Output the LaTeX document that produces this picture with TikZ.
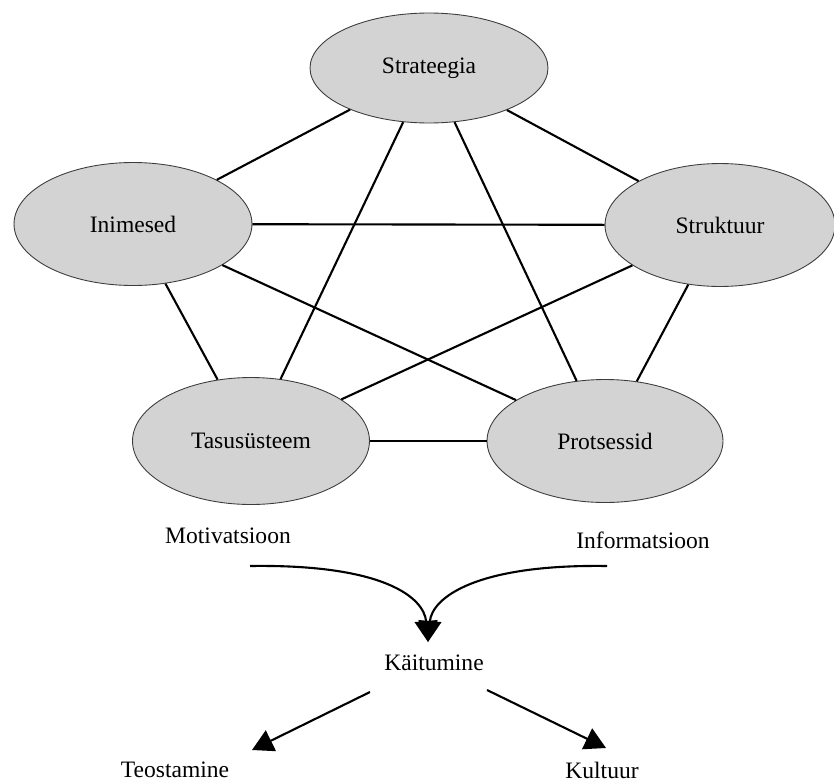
\documentclass[tikz,border=0pt]{standalone}
\usepackage{fontspec}
\setmainfont{Liberation Serif}
\usetikzlibrary{positioning, shapes, arrows.meta}
\definecolor{ovalgray}{RGB}{211,211,211}
\definecolor{rimgray}{RGB}{60,60,60}
\tikzset{
  oval/.style={ellipse, draw=rimgray, line width=0.5pt, fill=ovalgray,
    inner sep=0, font=\fontsize{13.4}{15}\selectfont},
  plain/.style={draw=none, inner sep=2pt, font=\fontsize{13.4}{15}\selectfont},
  link/.style={line width=1.2pt, black},
  flow/.style={line width=1.2pt, black, -{Triangle[length=12pt,width=13pt]}}
}

\begin{document}
\begin{tikzpicture}[x=0.02cm,y=-0.02cm]
\useasboundingbox (0,0) rectangle (834,781);


\node [oval, minimum width=4.76cm, minimum height=2.2cm] (strat) at (429,68) {Strateegia};
\node [oval, minimum width=4.76cm, minimum height=2.46cm] (inim) at (133,224) {Inimesed};
\node [oval, minimum width=4.6cm, minimum height=2.46cm] (strukt) at (720,225) {Struktuur};
\node [oval, minimum width=4.74cm, minimum height=2.54cm] (tasu) at (251,441) {Tasusüsteem};
\node [oval, minimum width=4.72cm, minimum height=2.46cm] (prots) at (605,441) {Protsessid};


% viisnurk ja taht
\draw [link] (strat) -- (inim);
\draw [link] (strat) -- (strukt);
\draw [link] (strat) -- (tasu);
\draw [link] (strat) -- (prots);
\draw [link] (inim) -- (strukt);
\draw [link] (inim) -- (tasu);
\draw [link] (inim) -- (prots);
\draw [link] (strukt) -- (tasu);
\draw [link] (strukt) -- (prots);
\draw [link] (tasu) -- (prots);


\node [plain] (motiv) at (228,536) {Motivatsioon};
\node [plain] (info) at (643,540) {Informatsioon};
\node [plain] (kait) at (434,663) {Käitumine};
\node [plain] (teos) at (175,770) {Teostamine};
\node [plain] (kult) at (602,770) {Kultuur};

\coordinate (motend) at (250,566);
\coordinate (infoend) at (607,566);
\coordinate (meet) at (428,642);
\coordinate (leftfrom) at (370,692);
\coordinate (leftto) at (252,750);
\coordinate (rightfrom) at (487,690);
\coordinate (rightto) at (606,748);


\draw [flow] (motend) .. controls (385,564) and (424,598) .. (meet);
\draw [flow] (infoend) .. controls (475,564) and (432,598) .. (meet);

\draw [flow] (leftfrom) -- (leftto);
\draw [flow] (rightfrom) -- (rightto);


\end{tikzpicture}
\end{document}
